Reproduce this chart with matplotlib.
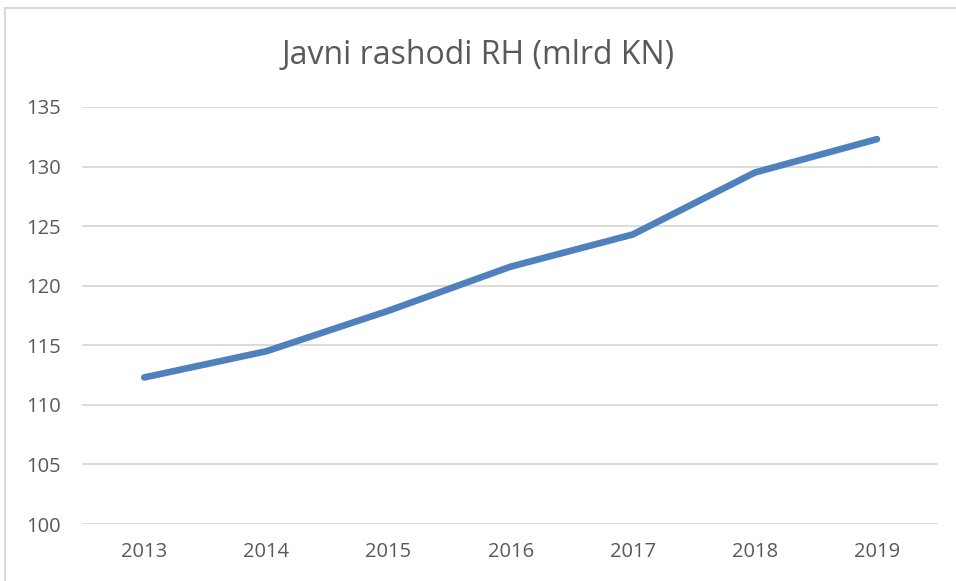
import matplotlib
matplotlib.use('Agg')
import matplotlib.pyplot as plt
from matplotlib.patches import Rectangle

# podaci
godine = ['2013', '2014', '2015', '2016', '2017', '2018', '2019']
rashodi = [112.3, 114.5, 117.9, 121.6, 124.3, 129.5, 132.3]
y_ticks = [100, 105, 110, 115, 120, 125, 130, 135]

plt.rcParams['font.family'] = ['Open Sans', 'DejaVu Sans']

fig = plt.figure(figsize=(9.56, 5.81), dpi=100)
fig.patches.append(Rectangle((5 / 956, -0.1), 1.2, 1 - 8 / 581 + 0.1,
                             transform=fig.transFigure, fill=False,
                             edgecolor='#d9d9d9', linewidth=1.5))

ax = fig.add_axes([82 / 956, 1 - 524 / 581, (938 - 82) / 956, (524 - 107) / 581])
x = range(len(godine))
ax.plot(x, rashodi, color='#4f81bd', linewidth=4.8, solid_capstyle='round',
        solid_joinstyle='round', zorder=3)

ax.set_xlim(-0.51, len(godine) - 0.5)
ax.set_ylim(100, 135)
ax.set_yticks(y_ticks)
ax.set_xticks(list(x))
ax.set_xticklabels(godine)
ax.grid(axis='y', color='#d9d9d9', linewidth=1.3)
ax.set_axisbelow(True)
for s in ax.spines.values():
    s.set_visible(False)
ax.tick_params(length=0, labelsize=14.5, colors='#595959', pad=13)
ax.tick_params(axis='y', pad=15)

fig.text(0.5, 1 - 55 / 581, 'Javni rashodi RH (mlrd KN)', ha='center', va='center',
         fontsize=23, color='#595959')

fig.savefig('out.png', dpi=100)
